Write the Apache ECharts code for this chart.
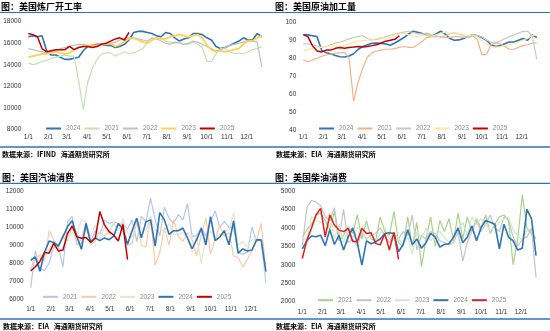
<!DOCTYPE html>
<html><head><meta charset="utf-8">
<script src="https://cdn.jsdelivr.net/npm/echarts@6/dist/echarts.min.js"></script>
<style>html,body{margin:0;padding:0;background:#fff;width:550px;height:331px;overflow:hidden}
.p{position:absolute}</style></head>
<body>
<div id="c1" class="p" style="left:0;top:0;width:275px;height:165px"></div>
<div id="c2" class="p" style="left:275px;top:0;width:275px;height:165px"></div>
<div id="c3" class="p" style="left:0;top:165px;width:275px;height:166px"></div>
<div id="c4" class="p" style="left:275px;top:165px;width:275px;height:166px"></div>
<script>
// ---- tick labels ----
const monthDays = [0,31,59,90,120,151,181,212,243,273,304,334];
const monthLabels = ['1/1','2/1','3/1','4/1','5/1','6/1','7/1','8/1','9/1','10/1','11/1','12/1'];
const weekStep = 7;

// ---- panel 1: 美国炼厂开工率 (weekly) ----
const run2024 = [16600,16700,16600,16700,15300,14900,14900,14700,14500,14500,14600,14700,15300,15700,15800,15900,15900,15800,15800,15600,15700,15900,16300,17000,17100,17100,17000,16900,16700,16600,17000,16900,16500,16200,16400,16500,16900,16900,16800,16500,16300,15700,15500,15600,15800,16000,16200,16500,16300,16300,16900,16600];
const run2021 = [14200,14000,14100,14300,14400,14600,14700,14800,14900,14800,14800,12500,9850,12400,13700,14500,15000,15100,15100,14800,15000,15200,15000,15100,15300,15500,16000,16300,16500,16400,16200,16100,16000,16100,15900,15900,16100,15900,15600,14300,14300,15000,15500,15500,15200,15000,15100,15000,15200,15400,15500,15700];
const run2022 = [15500,15400,15300,15200,15100,15200,15300,15500,15600,15700,15800,15900,15900,15800,15700,15800,15900,15900,16000,16100,16300,16400,16500,16500,16400,16300,16200,16500,16400,16200,16000,15900,16100,16000,15900,16000,16200,16100,15900,15700,15500,15300,15400,15600,15800,15900,16000,16100,16300,16200,16100,13800];
const run2023 = [14700,14800,14900,15000,15000,15100,15200,15100,15000,15100,15400,15600,15700,15800,15800,15800,15900,15900,16000,15700,15900,16200,16400,16500,16300,16100,16000,16300,16500,16400,16400,16600,16700,16800,16700,16600,16700,16800,16500,15800,15400,15200,15300,15200,15300,15400,15500,15900,16200,16200,16500,16700];
const run2025 = [16900,16800,16600,15500,15200,15300,15400,15400,15400,15700,15400,15600,15700,15700,15600,15700,15900,16000,16200,16400,16500,16300,17000];

// ---- panel 2: 美国原油加工量 (weekly) ----
const util2024 = [93.2,93.0,92.5,92.0,84.5,83.0,82.5,81.5,80.8,80.7,81.2,82.5,85.0,86.5,87.5,88.3,88.5,88.2,88.0,87.2,88.5,90.0,91.5,93.5,95.0,94.5,93.8,93.0,92.2,93.5,95.0,93.5,91.0,90.0,90.2,91.0,92.2,93.0,92.5,91.5,90.0,87.5,86.5,87.0,88.0,89.0,89.0,90.0,91.0,90.0,93.0,91.5];
const util2021 = [79.0,78.0,79.0,80.0,81.0,81.8,82.3,82.8,83.0,83.2,80.0,56.0,67.0,74.5,80.5,83.0,84.0,84.5,85.0,85.0,85.5,86.0,86.5,86.0,86.0,87.5,89.5,91.5,92.0,92.0,92.0,91.5,91.5,92.0,92.0,91.5,92.0,92.5,90.5,82.0,82.0,87.5,88.5,88.0,86.5,85.0,85.0,86.0,87.0,87.5,88.5,88.5];
const util2022 = [88.0,88.0,87.5,86.8,86.0,86.5,87.5,88.5,89.0,89.8,90.8,91.5,92.2,92.5,91.0,90.2,90.5,91.0,92.0,92.8,93.5,94.0,94.5,95.0,94.2,93.5,93.5,94.0,93.0,92.5,91.5,92.5,93.5,94.0,93.5,92.5,91.5,92.3,92.5,91.8,90.2,89.0,88.8,89.5,90.8,92.0,93.0,94.0,95.0,95.0,92.5,79.5];
const util2023 = [84.2,84.8,85.5,85.8,86.0,86.5,87.0,86.8,86.5,87.2,88.2,88.8,89.5,89.8,90.0,90.2,91.0,91.5,90.8,92.0,92.8,93.5,94.0,93.0,92.2,92.0,92.8,93.0,92.2,93.0,93.8,94.5,93.8,94.3,93.8,93.2,92.5,93.0,92.0,89.5,87.5,86.5,86.2,86.5,87.0,87.5,88.2,89.0,90.0,91.0,92.5,93.0];
const util2025 = [93.0,92.0,87.0,84.0,83.5,84.5,84.5,85.5,86.0,85.5,86.0,86.2,86.5,86.3,86.5,87.0,87.5,88.5,89.5,90.0,90.5,92.5];

// ---- panel 3: 美国汽油消费 (weekly) ----
const gas2021 = [6650,8700,7700,7600,8000,8900,8900,7800,10300,10600,9100,9100,10000,9200,9800,9600,10400,10200,10300,10200,10100,9900,10400,9200,10600,10300,11600,10400,9500,11100,10500,10200,10700,10400,11300,9500,9500,10000,9500,10300,10900,10000,10300,10000,10000,8600,8500,8600,10000,9200,9300,6900];
const gas2022 = [7600,8500,8300,8100,9800,9300,8900,9600,9200,10100,9000,9300,10300,9000,9200,9700,9500,9800,10200,9800,10300,9000,9100,10300,9000,8900,10600,7900,8600,10000,9000,10400,9500,9200,9700,9300,8400,9600,10500,8500,9300,10100,9500,9700,8400,8300,7800,8200,8700,9300,10200,7700];
const gas2023 = [8300,8200,8500,8300,8800,9200,9000,9400,9300,9700,9600,10400,10300,9500,10100,9300,10000,9600,10300,9800,10500,9700,9400,10400,9900,9800,10600,9800,10000,9700,10200,9600,9600,9700,9400,8600,9500,8000,9400,9800,9300,9600,9800,9800,10800,9000,9200,8900,9300,9400,9200,7100];
const gas2024 = [8150,8350,7550,8600,9230,9150,8950,9470,10030,10350,9500,8770,10200,9150,9400,9250,9400,9300,9500,10200,9900,9050,9800,10500,9400,10300,10400,8950,10800,10400,9600,9800,9800,9950,9400,8800,9300,9930,9010,10580,9250,9450,9800,9010,10340,8550,8790,8680,8730,9290,9290,7530];
const gas2025 = [7570,7800,8100,8600,8550,9100,8680,8730,9650,10060,9470,9380,9420,9160,9380,10860,10120,9750,9560,9230,10150,8200];

// ---- panel 4: 美国柴油消费 (weekly) ----
const dsl2021 = [3750,3950,4100,4350,4400,4200,3950,4450,3650,3800,4050,3850,4350,3700,4200,3700,3650,4300,3900,3800,4450,3600,3500,4300,3500,4150,2950,3700,4300,3500,4200,3900,4250,3650,4400,3700,4300,3900,4250,4000,4350,3850,4100,4300,4350,4200,3000,3700,4900,4000,3850,3700];
const dsl2022 = [3500,4550,4750,4700,4600,4300,4200,4550,3700,4500,3600,3700,3500,3900,3700,3800,3850,4000,3800,3600,3850,3700,3900,3800,4350,3400,3800,3700,3900,3850,3650,3600,3550,3600,3900,3100,3600,3900,4200,3900,4100,4350,4000,3900,4300,4200,3750,3500,3700,3750,4000,2650];
const dsl2023 = [3800,3600,4300,4200,4150,4200,4400,3700,4100,3600,4050,3700,4000,3950,3650,3900,3600,3850,4000,3700,3900,3700,3550,3750,3300,3900,3700,4000,3650,3800,3900,3750,3600,3700,3950,4150,3800,4300,4100,4250,4100,3950,4000,4150,4250,4300,3950,3800,3650,3950,3800,3750];
const dsl2024 = [3430,3650,3780,3760,3800,3520,3950,3550,3800,3400,3750,4000,3600,2990,3650,3570,3620,3700,3850,3870,3850,3350,3550,3950,3550,3700,3450,3600,3850,3750,3480,3550,3570,3750,4000,3600,3750,4050,3650,4000,4200,4150,4100,3430,4100,3750,3650,3400,3450,4500,4250,3250];
const dsl2025 = [3170,3670,3990,4350,4530,3760,4350,4080,3940,3900,3990,3630,3630,3990,3850,3870,3580,3540,3850,3400,3880,3150];

const CJK = '"Noto Sans CJK SC", sans-serif';
const NUM = '"Liberation Sans", Arial, sans-serif';
const RULE = '#2E74B5';

function build(cfg) {
  const series = cfg.series.map(s => ({
    name: s.name, type: 'line', symbol: 'none', silent: true,
    data: s.values.map((v, i) => [i * weekStep, v]),
    lineStyle: { color: s.color, width: s.width },
    itemStyle: { color: s.color }
  }));
  return {
    animation: false,
    grid: { left: cfg.grid[0], top: cfg.grid[1], width: cfg.grid[2], height: cfg.grid[3] },
    xAxis: {
      type: 'value', min: 0, max: 365,
      axisLine: { show: false }, axisTick: { show: false }, splitLine: { show: false },
      axisLabel: {
        customValues: monthDays,
        formatter: v => monthLabels[monthDays.indexOf(v)],
        fontSize: 6.5, color: '#333', margin: cfg.xMargin, fontFamily: NUM
      }
    },
    yAxis: {
      type: 'value', min: cfg.ymin, max: cfg.ymax, interval: cfg.interval,
      axisLine: { show: false }, axisTick: { show: false }, splitLine: { show: false },
      axisLabel: { fontSize: 6.5, color: '#333', margin: 7, fontFamily: NUM, formatter: v => String(v) }
    },
    legend: {
      data: cfg.series.map(s => ({ name: s.name, icon: 'rect' })), left: cfg.legendLeft, top: cfg.legendTop,
      itemWidth: 15, itemHeight: 2, itemGap: 4, padding: 0,
      textStyle: { fontSize: 6.5, color: '#8c8c8c', fontFamily: NUM }
    },
    series: series,
    graphic: [
      { type: 'text', silent: true, style: { text: cfg.title, x: cfg.titleX, y: cfg.titleY, verticalAlign: 'middle', textVerticalAlign: 'middle', font: 'bold 9px ' + CJK, fill: '#000' } },
      { type: 'line', silent: true, shape: { x1: 0, y1: cfg.ruleY, x2: 275, y2: cfg.ruleY }, style: { stroke: RULE, lineWidth: 1.2 } },
      { type: 'line', silent: true, shape: { x1: 0, y1: cfg.footRuleY, x2: 275, y2: cfg.footRuleY }, style: { stroke: RULE, lineWidth: 1.6 } },
      { type: 'text', silent: true, style: { text: cfg.footer, x: cfg.titleX + 1, y: cfg.footY, verticalAlign: 'middle', textVerticalAlign: 'middle', font: 'bold 7px ' + CJK, fill: '#000' } }
    ]
  };
}

const panels = [
  { id: 'c1', title: '图：美国炼厂开工率', footer: '数据来源：IFIND   海通期货研究所',
    titleX: 1, titleY: 7, ruleY: 12.5, footRuleY: 147, footY: 154,
    grid: [28.3, 21.7, 238.7, 107.6], xMargin: 4.5, ymin: 8000, ymax: 18000, interval: 2000,
    legendLeft: 46, legendTop: 125,
    series: [
      { name: '2024', values: run2024, color: '#2E75B6', width: 1.6 },
      { name: '2021', values: run2021, color: '#C5E0B4', width: 1.2 },
      { name: '2022', values: run2022, color: '#BFBFBF', width: 1.2 },
      { name: '2023', values: run2023, color: '#FFD34E', width: 1.8 },
      { name: '2025', values: run2025, color: '#C00000', width: 1.5 }
    ] },
  { id: 'c2', title: '图：美国原油加工量', footer: '数据来源：EIA   海通期货研究所',
    titleX: 0, titleY: 7, ruleY: 12.5, footRuleY: 147, footY: 154,
    grid: [28.3, 22.3, 238.7, 107.7], xMargin: 3.5, ymin: 40, ymax: 100, interval: 10,
    legendLeft: 44, legendTop: 125,
    series: [
      { name: '2024', values: util2024, color: '#2E75B6', width: 1.6 },
      { name: '2021', values: util2021, color: '#F4B183', width: 1.2 },
      { name: '2022', values: util2022, color: '#C9C9C9', width: 1.2 },
      { name: '2023', values: util2023, color: '#FFE699', width: 1.2 },
      { name: '2025', values: util2025, color: '#C00000', width: 1.5 }
    ] },
  { id: 'c3', title: '图：美国汽油消费', footer: '数据来源：EIA   海通期货研究所',
    titleX: 2, titleY: 12.7, ruleY: 18.3, footRuleY: 154, footY: 161,
    grid: [30.7, 26, 240.4, 108.3], xMargin: 6.5, ymin: 6000, ymax: 12000, interval: 1000,
    legendLeft: 43, legendTop: 128.3,
    series: [
      { name: '2021', values: gas2021, color: '#B4C7E7', width: 1.2 },
      { name: '2022', values: gas2022, color: '#F8CBAD', width: 1.2 },
      { name: '2023', values: gas2023, color: '#DDE8D0', width: 1.2 },
      { name: '2024', values: gas2024, color: '#2E75B6', width: 1.6 },
      { name: '2025', values: gas2025, color: '#C00000', width: 1.5 }
    ] },
  { id: 'c4', title: '图：美国柴油消费', footer: '数据来源：EIA   海通期货研究所',
    titleX: 0, titleY: 12.7, ruleY: 18.3, footRuleY: 154, footY: 161,
    grid: [27.3, 26, 239, 110.7], xMargin: 6.8, ymin: 2000, ymax: 5000, interval: 500,
    legendLeft: 43, legendTop: 131.7,
    series: [
      { name: '2021', values: dsl2021, color: '#A9D18E', width: 1.2 },
      { name: '2022', values: dsl2022, color: '#C4C4C4', width: 1.2 },
      { name: '2023', values: dsl2023, color: '#D3E7C5', width: 1.2 },
      { name: '2024', values: dsl2024, color: '#2E75B6', width: 1.6 },
      { name: '2025', values: dsl2025, color: '#E01E1E', width: 1.5 }
    ] }
];

panels.forEach(p => {
  const chart = echarts.init(document.getElementById(p.id), null, { renderer: 'canvas' });
  chart.setOption(build(p));
});
</script>
</body></html>
